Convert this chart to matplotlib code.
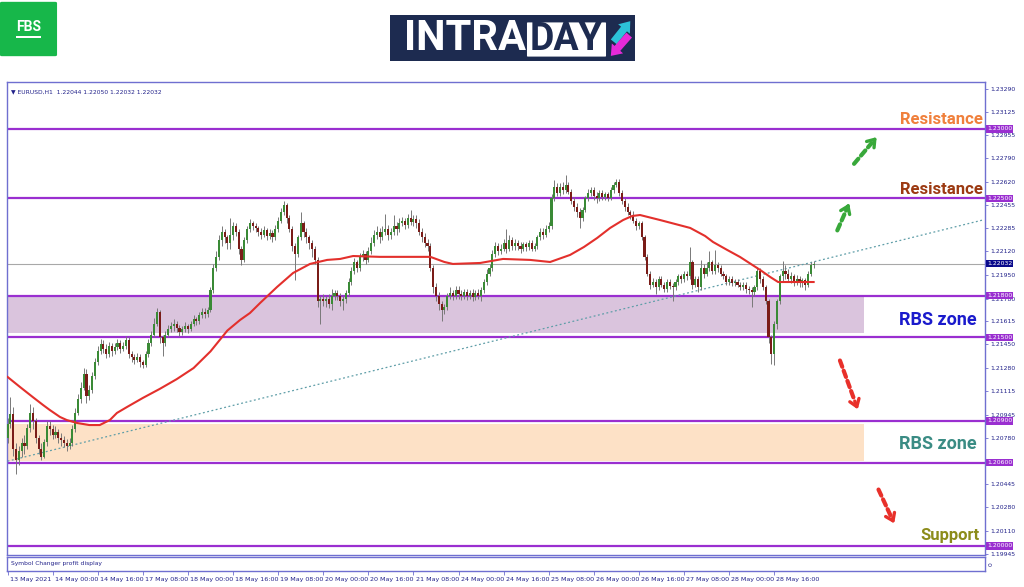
import numpy as np
import matplotlib.pyplot as plt
import matplotlib.transforms as mtransforms
from matplotlib.patches import Rectangle, FancyBboxPatch

W, H = 1024, 587

# EURUSD H1 candles, values in pips above 1.2000
first_open = 78
close = [88, 95, 70, 62, 68, 74, 72, 85, 96, 90,
         78, 70, 64, 75, 86, 84, 80, 82, 78, 76,
         74, 72, 74, 84, 96, 106, 114, 124, 108, 112,
         122, 132, 140, 145, 142, 138, 144, 140, 143, 146,
         142, 144, 148, 138, 136, 134, 136, 132, 130, 138,
         146, 152, 160, 168, 150, 146, 152, 156, 158, 160,
         157, 154, 156, 158, 156, 160, 163, 162, 166, 168,
         167, 170, 184, 200, 208, 220, 226, 222, 218, 224,
         230, 226, 214, 206, 220, 228, 232, 230, 229, 226,
         224, 227, 223, 225, 222, 228, 234, 240, 245, 236,
         228, 216, 210, 222, 232, 226, 222, 218, 214, 206,
         176, 178, 176, 178, 174, 180, 182, 180, 176, 178,
         182, 190, 198, 204, 200, 208, 210, 206, 212, 218,
         224, 226, 222, 226, 228, 224, 226, 230, 228, 232,
         234, 231, 236, 233, 235, 232, 226, 222, 218, 216,
         200, 186, 180, 174, 170, 172, 180, 182, 180, 184,
         181, 180, 183, 180, 182, 179, 182, 180, 184, 190,
         196, 200, 210, 216, 212, 214, 218, 214, 220, 216,
         218, 216, 214, 217, 215, 218, 214, 216, 222, 226,
         224, 228, 230, 250, 258, 254, 258, 256, 260, 255,
         248, 244, 240, 236, 242, 250, 254, 256, 252, 250,
         254, 251, 253, 250, 256, 260, 262, 254, 248, 244,
         240, 238, 234, 230, 232, 222, 208, 196, 188, 190,
         186, 192, 188, 185, 190, 187, 186, 190, 194, 192,
         196, 194, 204, 188, 192, 186, 200, 196, 200, 204,
         198, 202, 200, 196, 194, 190, 192, 189, 190, 188,
         186, 188, 185, 184, 183, 186, 198, 192, 186, 176,
         150, 138, 160, 176, 194, 198, 196, 192, 194, 190,
         192, 189, 191, 188, 196, 202, 203.2]
high = [92, 107, 100, 74, 72, 78, 80, 88, 102, 100,
        92, 80, 74, 77, 90, 90, 87, 86, 84, 81,
        79, 77, 78, 87, 99, 109, 118, 128, 127, 116,
        125, 135, 144, 149, 148, 145, 147, 146, 146, 149,
        148, 147, 151, 150, 140, 138, 139, 138, 134, 140,
        149, 155, 164, 171, 170, 152, 155, 159, 161, 163,
        162, 159, 158, 161, 160, 162, 166, 165, 168, 171,
        171, 172, 186, 203, 212, 224, 230, 228, 224, 236,
        233, 232, 228, 216, 222, 230, 235, 234, 232, 230,
        229, 230, 229, 228, 227, 231, 237, 243, 248, 247,
        238, 230, 218, 224, 240, 234, 229, 224, 220, 216,
        208, 180, 181, 180, 181, 185, 184, 184, 182, 180,
        184, 193, 201, 207, 206, 211, 213, 212, 215, 222,
        227, 230, 229, 230, 239, 231, 229, 238, 233, 236,
        237, 236, 239, 242, 238, 238, 235, 229, 225, 221,
        218, 202, 189, 183, 176, 174, 182, 186, 184, 187,
        187, 184, 185, 185, 184, 185, 184, 185, 186, 192,
        199, 203, 213, 219, 218, 217, 221, 228, 224, 222,
        221, 220, 219, 219, 219, 220, 220, 218, 224, 229,
        229, 231, 233, 253, 263, 261, 261, 262, 267, 262,
        257, 251, 247, 243, 244, 252, 257, 258, 258, 255,
        256, 256, 255, 255, 258, 262, 264, 264, 256, 250,
        247, 242, 241, 236, 234, 234, 224, 210, 198, 193,
        192, 194, 194, 190, 192, 192, 189, 192, 196, 196,
        198, 198, 215, 206, 194, 194, 206, 203, 204, 212,
        206, 213, 204, 202, 198, 196, 194, 194, 192, 192,
        190, 190, 190, 187, 186, 188, 201, 200, 194, 188,
        178, 152, 162, 178, 196, 205, 202, 199, 197, 196,
        195, 194, 193, 193, 198, 204, 205]
low = [74, 85, 65, 52, 58, 64, 66, 70, 82, 84,
       74, 66, 62, 63, 72, 80, 77, 78, 74, 72,
       71, 68, 70, 72, 82, 94, 103, 112, 103, 105,
       110, 120, 130, 138, 139, 135, 136, 137, 138, 141,
       139, 140, 142, 135, 132, 131, 132, 129, 128, 129,
       136, 144, 150, 158, 146, 137, 144, 150, 154, 155,
       154, 151, 152, 154, 153, 155, 158, 159, 160, 164,
       164, 165, 168, 182, 198, 206, 216, 218, 214, 214,
       220, 223, 210, 202, 204, 218, 226, 227, 226, 223,
       221, 222, 220, 221, 219, 220, 226, 232, 238, 232,
       226, 212, 191, 208, 220, 222, 218, 214, 208, 203,
       172, 160, 173, 172, 171, 170, 177, 177, 173, 170,
       175, 180, 188, 196, 197, 198, 205, 203, 204, 210,
       216, 221, 218, 220, 224, 220, 221, 224, 224, 226,
       230, 228, 229, 231, 230, 229, 224, 219, 215, 212,
       198, 182, 176, 170, 162, 167, 170, 178, 177, 178,
       178, 177, 178, 177, 178, 176, 177, 178, 176, 182,
       188, 194, 198, 208, 209, 210, 212, 211, 212, 213,
       213, 213, 211, 212, 212, 213, 212, 212, 214, 220,
       221, 222, 226, 228, 248, 252, 252, 253, 254, 253,
       246, 241, 237, 229, 234, 240, 248, 252, 249, 247,
       248, 249, 249, 248, 249, 254, 258, 252, 246, 241,
       238, 235, 232, 227, 228, 220, 206, 194, 185, 186,
       181, 184, 186, 183, 183, 185, 176, 184, 188, 189,
       190, 191, 192, 185, 186, 183, 184, 193, 194, 198,
       196, 196, 197, 194, 192, 188, 188, 187, 187, 186,
       184, 184, 182, 181, 172, 180, 184, 189, 184, 174,
       146, 131, 130, 156, 174, 190, 192, 190, 189, 187,
       188, 186, 186, 184, 186, 194, 200.3]

# moving average (red), bar index / pips
ma_bar = [0, 4.4, 8.9, 12.6, 15, 18.6, 21, 24.6, 29, 32.7, 36.3, 38.8, 42.4, 48,
          54, 60, 66, 72, 78, 82.5, 86, 89.6, 95.6, 101.3, 107.3, 113.4, 118,
          122.6, 132, 150, 155, 158, 167.7, 175.8, 185.4, 192.5, 199.6, 204.5,
          209.2, 213.8, 218.4, 221.6, 224.4, 231.5, 242.2, 247.5, 250.3, 255.3,
          259.9, 267, 270.6, 273.4, 286]
ma_val = [121.6, 114.4, 107.2, 101.4, 97.8, 92.8, 90.6, 88.5, 87, 87, 90.6, 95.7,
          100, 106.5, 113, 120, 128, 140, 155, 162.6, 167.6, 174.8, 186.3, 196.4,
          202.9, 205.8, 206.5, 208.6, 208, 208, 204.3, 202.9, 203.6, 206.5, 205.8,
          204.3, 209.4, 215.1, 221.6, 228.8, 234.5, 237.4, 238.1, 234.5, 228.8,
          223, 218.7, 213, 207.9, 198.6, 193.5, 189.9, 189.9]

levels = [1.2300, 1.2250, 1.2180, 1.2150, 1.2090, 1.2060, 1.2000]
last_price = 1.22032
zone_purple = (1.2153, 1.2179)
zone_orange = (1.2061, 1.2088)
zone_end = 304
trend_bar = [0, 346]
trend_val = [1.2061, 1.22345]

price_ticks = [1.23290, 1.23125, 1.22955, 1.22790, 1.22620, 1.22455, 1.22285,
               1.22120, 1.21950, 1.21780, 1.21615, 1.21450, 1.21280, 1.21115,
               1.20945, 1.20780, 1.20445, 1.20280, 1.20110, 1.19945]
time_labels = ["13 May 2021", "14 May 00:00", "14 May 16:00", "17 May 08:00",
               "18 May 00:00", "18 May 16:00", "19 May 08:00", "20 May 00:00",
               "20 May 16:00", "21 May 08:00", "24 May 00:00", "24 May 16:00",
               "25 May 08:00", "26 May 00:00", "26 May 16:00", "27 May 08:00",
               "28 May 00:00", "28 May 16:00"]

# arrows: (bar, price) start -> tip
green_arrows = [((294, 1.22252), (299, 1.22482)), ((299.7, 1.22734), (309, 1.22957))]
red_arrows = [((295, 1.21353), (302, 1.20964)), ((308.6, 1.20424), (315, 1.20144))]

FRAME = '#6f6fd0'
NAVY = '#22228a'
PURPLE = '#9a2fd0'

c = 1.2 + np.array(close) / 1e4
hi = 1.2 + np.array(high) / 1e4
lo = 1.2 + np.array(low) / 1e4
o = np.r_[1.2 + first_open / 1e4, c[:-1]]
idx = np.arange(len(c))

fig = plt.figure(figsize=(W / 100, H / 100), dpi=100)
ax = fig.add_axes([7 / W, 1 - 555 / H, 978 / W, 473 / H])
ax.set_xlim(-0.2, 346.8)
ax.set_ylim(1.19935, 1.23338)

# zones
ax.add_patch(Rectangle((-0.2, zone_purple[0]), zone_end + 0.2, zone_purple[1] - zone_purple[0],
                       fc='#dac4dd', ec='none', zorder=0))
ax.add_patch(Rectangle((-0.2, zone_orange[0]), zone_end + 0.2, zone_orange[1] - zone_orange[0],
                       fc='#fde1c6', ec='none', zorder=0))

for lv in levels:
    ax.axhline(lv, color=PURPLE, lw=1.6, zorder=1)
ax.axhline(last_price, color='#a8a8a8', lw=0.8, zorder=1)

ax.plot(trend_bar, trend_val, color='#5f9ea8', lw=0.9, ls=(0, (1.5, 2)), zorder=2)

# candles
up = c >= o
ax.vlines(idx, lo, hi, color='#787878', lw=0.7, zorder=3)
body = np.maximum(np.abs(c - o), 0.00004)
ax.bar(idx, body, bottom=np.minimum(o, c), width=0.75,
       color=np.where(up, '#3a8a36', '#7a1c18'), lw=0, zorder=4)

ax.plot(ma_bar, 1.2 + np.array(ma_val) / 1e4, color='#e3302c', lw=1.5, zorder=5,
        solid_joinstyle='round')

# dashed arrows
for arrows, col in ((green_arrows, '#38a83a'), (red_arrows, '#e8302a')):
    for (x0, y0), (x1, y1) in arrows:
        ax.annotate('', xy=(x0 + 0.8 * (x1 - x0), y0 + 0.8 * (y1 - y0)), xytext=(x0, y0),
                    arrowprops=dict(arrowstyle='-', lw=3, color=col, ls=(0, (1.6, 1.0))))
        ax.annotate('', xy=(x1, y1), xytext=(x0 + 0.75 * (x1 - x0), y0 + 0.75 * (y1 - y0)),
                    arrowprops=dict(arrowstyle='->,head_length=0.5,head_width=0.35',
                                    lw=2.4, color=col))

# labels at right
tr = mtransforms.blended_transform_factory(ax.transAxes, ax.transData)
kw = dict(transform=tr, ha='right', va='center', family='Roboto', weight='bold')
ax.text(0.998, 1.23068, 'Resistance', color='#f0803c', fontsize=12, **kw)
ax.text(0.998, 1.22561, 'Resistance', color='#9c3a12', fontsize=12, **kw)
ax.text(0.991, 1.21626, 'RBS zone', color='#1a1acc', fontsize=13, **kw)
ax.text(0.991, 1.20734, 'RBS zone', color='#3a8c84', fontsize=13, **kw)
ax.text(0.994, 1.20072, 'Support', color='#8c8c1a', fontsize=12, **kw)

ax.text(0.004, 0.985, '\u25bc EURUSD,H1  1.22044 1.22050 1.22032 1.22032',
        transform=ax.transAxes, fontsize=4.3, color=NAVY, va='top')

# price axis
ax.yaxis.tick_right()
ax.set_yticks(price_ticks)
ax.set_yticklabels([f'{p:.5f}' for p in price_ticks])
ax.tick_params(axis='y', labelsize=4.4, labelcolor=NAVY, color=FRAME, length=2.5, width=0.6, pad=1.5)
ax.set_xticks([])
for s in ax.spines.values():
    s.set_color(FRAME)
    s.set_linewidth(1)

for lv in levels:
    ax.text(1.002, lv, f'{lv:.5f}', transform=tr, ha='left', va='center', fontsize=4.4,
            color='white', clip_on=False, zorder=10,
            bbox=dict(boxstyle='square,pad=0.2', fc=PURPLE, ec='none'))
ax.text(1.002, last_price, f'{last_price:.5f}', transform=tr, ha='left', va='center',
        fontsize=4.4, color='white', clip_on=False, zorder=10,
        bbox=dict(boxstyle='square,pad=0.2', fc='#0a0a8c', ec='none'))

# sub window + time axis
ax2 = fig.add_axes([7 / W, 1 - 571 / H, 978 / W, 14 / H])
ax2.set_xlim(ax.get_xlim())
ax2.set_yticks([])
ax2.set_xticks(np.arange(len(time_labels)) * 16)
ax2.set_xticklabels(time_labels)
ax2.tick_params(axis='x', labelsize=4.6, labelcolor=NAVY, color=FRAME, length=3, width=0.6, pad=1)
off = mtransforms.ScaledTranslation(1.5 / 72, 0, fig.dpi_scale_trans)
for lab in ax2.get_xticklabels():
    lab.set_ha('left')
    lab.set_transform(lab.get_transform() + off)
for s in ax2.spines.values():
    s.set_color(FRAME)
    s.set_linewidth(1)
ax2.text(0.004, 0.5, 'Symbol Changer profit display', transform=ax2.transAxes,
         fontsize=4.3, color=NAVY, va='center')
ax2.text(1.004, 0.5, '0', transform=ax2.transAxes, fontsize=4.3, color=NAVY,
         va='center', rotation=90)

# logos
def px(x, y):
    return x / W, 1 - y / H

fig.add_artist(FancyBboxPatch(px(2, 55), 53 / W, 52 / H, boxstyle='round,pad=0.002',
                              transform=fig.transFigure, fc='#17b74a', ec='none'))
fig.text(*px(28.5, 27), 'FBS', color='white', fontsize=10, weight='bold',
         family='Roboto', ha='center', va='center')
fig.add_artist(Rectangle(px(16, 38), 25 / W, 2 / H, transform=fig.transFigure,
                         fc='white', ec='none'))

fig.add_artist(Rectangle(px(390, 61), 245 / W, 46 / H, transform=fig.transFigure,
                         fc='#1d2b50', ec='none'))
fig.text(*px(526, 39), 'INTRA', color='white', fontsize=30, weight='bold',
         family='Roboto', ha='right', va='center')
fig.add_artist(FancyBboxPatch(px(528, 56), 77 / W, 33 / H, boxstyle='round,pad=0.001',
                              transform=fig.transFigure, fc='white', ec='none'))
fig.text(*px(566.5, 39), 'DAY', color='#1d2b50', fontsize=27, weight='bold',
         family='Roboto', ha='center', va='center')
fig.add_artist(plt.Annotation('', xy=px(632, 19), xytext=px(612, 44), xycoords='figure fraction',
                              arrowprops=dict(arrowstyle='simple,head_length=0.6,head_width=0.9,tail_width=0.45',
                                              fc='#2cc2d8', ec='none', mutation_scale=12)))
fig.add_artist(plt.Annotation('', xy=px(609, 58), xytext=px(631, 33), xycoords='figure fraction',
                              arrowprops=dict(arrowstyle='simple,head_length=0.6,head_width=0.9,tail_width=0.45',
                                              fc='#e62ad8', ec='none', mutation_scale=12)))

fig.savefig('out.png', dpi=100)
